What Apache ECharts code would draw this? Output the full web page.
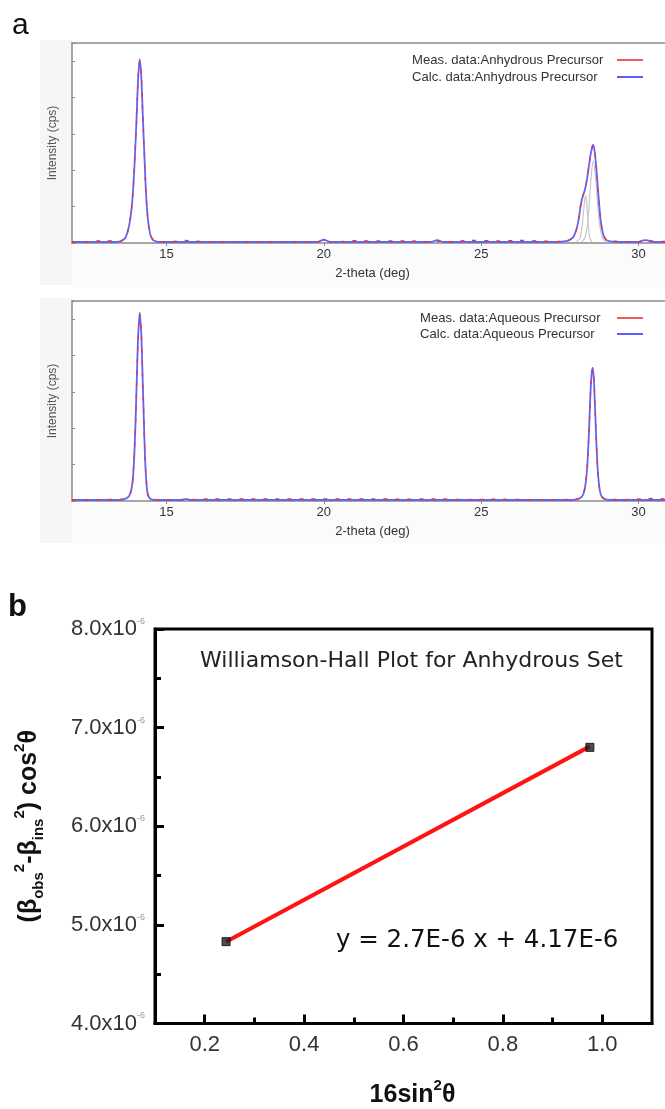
<!DOCTYPE html>
<html>
<head>
<meta charset="utf-8">
<title>XRD refinement and Williamson-Hall plot</title>
<script src="https://cdn.jsdelivr.net/npm/echarts@6/dist/echarts.min.js"></script>
<style>
  html, body { margin: 0; padding: 0; background: #fff; }
  #chart { width: 665px; height: 1109px; }
</style>
</head>
<body>
<div id="chart"></div>
<script>
// --- panel a, top: anhydrous precursor (2-theta in deg, intensity in arbitrary units) ---
var anhTheta = [12.0, 12.5, 13.0, 13.5, 13.6, 13.7, 13.78, 13.84, 13.9, 13.95,
  14.0, 14.05, 14.1, 14.15, 14.2, 14.25, 14.3, 14.35, 14.4, 14.45,
  14.5, 14.58, 14.7, 15.0, 15.6, 15.75, 16.5, 18.0, 19.8, 20.0,
  20.2, 21.2, 21.4, 22.6, 23.4, 23.6, 23.8, 24.6, 25.5, 26.2,
  26.8, 27.4, 27.7, 27.85, 27.95, 28.05, 28.12, 28.18, 28.24, 28.3,
  28.36, 28.42, 28.48, 28.53, 28.56, 28.6, 28.65, 28.7, 28.75, 28.8,
  28.86, 28.92, 29.0, 29.2, 30.0, 30.15, 30.25, 30.4, 31.0];
var anhCalc = [0.03, 0.03, 0.03, 0.04, 0.07, 0.15, 0.35, 0.6, 1.0, 1.6,
  2.4, 3.4, 4.5, 5.05, 4.6, 3.5, 2.4, 1.4, 0.75, 0.4,
  0.2, 0.08, 0.04, 0.03, 0.03, 0.03, 0.03, 0.03, 0.03, 0.09,
  0.03, 0.03, 0.03, 0.03, 0.03, 0.08, 0.03, 0.03, 0.03, 0.03,
  0.03, 0.03, 0.05, 0.1, 0.2, 0.45, 0.78, 1.12, 1.32, 1.48,
  1.75, 2.1, 2.45, 2.65, 2.7, 2.55, 2.15, 1.6, 1.05, 0.6,
  0.3, 0.15, 0.07, 0.04, 0.03, 0.07, 0.08, 0.04, 0.03];
var anhMeas = [0.03, 0.03, 0.07, 0.04, 0.08, 0.16, 0.33, 0.62, 1.02, 1.55,
  2.45, 3.35, 4.55, 5.0, 4.62, 3.45, 2.42, 1.38, 0.78, 0.38,
  0.21, 0.08, 0.04, 0.03, 0.07, 0.06, 0.03, 0.03, 0.03, 0.06,
  0.03, 0.07, 0.06, 0.06, 0.03, 0.05, 0.03, 0.07, 0.06, 0.07,
  0.06, 0.04, 0.06, 0.11, 0.21, 0.43, 0.8, 1.14, 1.3, 1.5,
  1.72, 2.12, 2.42, 2.66, 2.68, 2.57, 2.12, 1.62, 1.02, 0.62,
  0.28, 0.16, 0.07, 0.05, 0.03, 0.08, 0.09, 0.06, 0.04];

// fitted component peaks (grey) around 28.3 / 28.6
var compATheta = [28.02, 28.13, 28.2, 28.25, 28.29, 28.32, 28.36, 28.4, 28.45, 28.52];
var compAVal = [0.03, 0.12, 0.4, 0.85, 1.18, 1.3, 1.0, 0.5, 0.15, 0.03];
var compBTheta = [28.2, 28.3, 28.38, 28.45, 28.5, 28.56, 28.62, 28.68, 28.75, 28.85, 28.95];
var compBVal = [0.03, 0.15, 0.55, 1.3, 1.9, 2.25, 1.95, 1.3, 0.6, 0.15, 0.03];

// --- panel a, bottom: aqueous precursor ---
var aqTheta = [12.0, 13.0, 13.6, 13.75, 13.85, 13.92, 13.97, 14.02, 14.06, 14.1,
  14.15, 14.2, 14.24, 14.28, 14.32, 14.36, 14.4, 14.46, 14.55, 15.0,
  15.5, 15.62, 15.75, 16.5, 17.5, 18.5, 19.5, 20.5, 21.5, 22.5,
  23.5, 24.5, 25.5, 26.5, 27.5, 28.0, 28.15, 28.25, 28.32, 28.37,
  28.42, 28.46, 28.5, 28.54, 28.58, 28.62, 28.66, 28.7, 28.75, 28.8,
  28.88, 29.0, 29.5, 30.2, 30.5, 30.8, 31.0];
var aqCalc = [0.03, 0.03, 0.04, 0.08, 0.2, 0.5, 1.1, 2.2, 3.4, 4.5,
  5.18, 4.6, 3.5, 2.3, 1.2, 0.55, 0.22, 0.08, 0.04, 0.03,
  0.03, 0.06, 0.03, 0.03, 0.03, 0.03, 0.03, 0.03, 0.03, 0.03,
  0.03, 0.03, 0.03, 0.03, 0.03, 0.04, 0.08, 0.2, 0.5, 0.95,
  1.8, 2.7, 3.4, 3.67, 3.35, 2.5, 1.6, 0.9, 0.4, 0.18,
  0.07, 0.04, 0.03, 0.03, 0.03, 0.03, 0.03];
var aqMeas = [0.03, 0.04, 0.05, 0.09, 0.21, 0.48, 1.12, 2.15, 3.42, 4.45,
  5.15, 4.62, 3.45, 2.32, 1.18, 0.57, 0.21, 0.08, 0.05, 0.03,
  0.04, 0.05, 0.04, 0.06, 0.06, 0.06, 0.06, 0.06, 0.06, 0.05,
  0.06, 0.04, 0.05, 0.04, 0.04, 0.05, 0.09, 0.21, 0.48, 0.97,
  1.78, 2.72, 3.38, 3.64, 3.37, 2.48, 1.62, 0.88, 0.42, 0.17,
  0.08, 0.05, 0.04, 0.06, 0.07, 0.06, 0.04];

var xrdTicks = [15, 20, 25, 30];
var anhNames = ['Meas. data:Anhydrous Precursor', 'Calc. data:Anhydrous Precursor'];
var aqNames = ['Meas. data:Aqueous Precursor', 'Calc. data:Aqueous Precursor'];

// --- panel b: Williamson-Hall (y in units of 1e-6) ---
var whX = [0.243, 0.975];
var whY = [4.83, 6.80];
var fitX = [0.243, 0.975];
var fitY = [4.83, 6.81];
var whXTicks = [0.2, 0.4, 0.6, 0.8, 1.0];
var whXMinor = [0.3, 0.5, 0.7, 0.9];

(function () {
  'use strict';

  function zip(xs, ys) {
    return xs.map(function (x, i) { return [x, ys[i]]; });
  }

  var chart = echarts.init(document.getElementById('chart'), null, { renderer: 'canvas' });

  var FONT = '"Liberation Sans", Arial, sans-serif';
  var GREY = '#8a8a8a';
  var BLUE = 'rgba(70, 70, 255, 0.85)';
  var RED = '#e8343a';
  // the diffractograms are cut off at the right edge of the figure
  var XRD_MIN = 12, XRD_MAX = 30.84;

  function xrdGrid(top) {
    return { left: 72, top: top, width: 593, height: 200, backgroundColor: '#fff', show: true, borderWidth: 0 };
  }

  function xrdXAxis(idx) {
    return {
      type: 'value', gridIndex: idx, min: XRD_MIN, max: XRD_MAX,
      name: '2-theta (deg)', nameLocation: 'middle', nameGap: 24,
      nameTextStyle: { fontFamily: FONT, fontSize: 13, color: '#333', padding: [0, 0, 0, 8] },
      axisLine: { lineStyle: { color: GREY, width: 1.5 } },
      axisTick: { customValues: xrdTicks, length: 3, lineStyle: { color: GREY } },
      axisLabel: { customValues: xrdTicks, margin: 5, fontFamily: FONT, fontSize: 13, color: '#333' },
      splitLine: { show: false }
    };
  }

  // plain top frame line of each diffractogram
  function xrdTopAxis(idx) {
    return {
      type: 'value', gridIndex: idx, min: XRD_MIN, max: XRD_MAX, position: 'top',
      axisLine: { lineStyle: { color: GREY, width: 1.5 } },
      axisTick: { show: false }, axisLabel: { show: false }, splitLine: { show: false }
    };
  }

  function xrdYAxis(idx) {
    return {
      type: 'value', gridIndex: idx, min: 0, max: 5.5, interval: 1,
      name: 'Intensity (cps)', nameLocation: 'middle', nameGap: 13,
      nameTextStyle: { fontFamily: FONT, fontSize: 12, color: '#555' },
      axisLine: { show: true, lineStyle: { color: GREY, width: 1.5 } },
      axisTick: { show: true, inside: true, length: 3, lineStyle: { color: GREY } },
      axisLabel: { show: false },
      splitLine: { show: false }
    };
  }

  // legend drawn like the diffractometer export: text on the left, line key on the right
  function xrdKey(textX, rows, names) {
    var colors = ['#f05a5e', '#5d5dff'];
    var els = [];
    names.forEach(function (n, i) {
      els.push({ type: 'text', x: textX, y: rows[i], z: 20,
        style: { text: n, font: '13.1px ' + FONT, fill: '#333', verticalAlign: 'middle' } });
      els.push({ type: 'line', z: 20, shape: { x1: 617, y1: rows[i], x2: 643, y2: rows[i] },
        style: { stroke: colors[i], lineWidth: 2 } });
    });
    return els;
  }

  function lineSeries(name, idx, data, color, width, dashed, z) {
    return {
      name: name, type: 'line', xAxisIndex: idx, yAxisIndex: idx,
      data: data, symbol: 'none', smooth: 0.3, z: z, animation: false,
      lineStyle: { color: color, width: width, type: dashed ? [4, 8] : 'solid' },
      itemStyle: { color: color }
    };
  }

  var supRich = {
    m: { fontFamily: FONT, fontSize: 25, fontWeight: 'bold', color: '#111', lineHeight: 34 },
    sub: { fontFamily: FONT, fontSize: 15, fontWeight: 'bold', color: '#111', lineHeight: 15, verticalAlign: 'bottom' },
    sup: { fontFamily: FONT, fontSize: 15, fontWeight: 'bold', color: '#111', lineHeight: 15, verticalAlign: 'top' }
  };

  var option = {
    backgroundColor: '#fff',
    animation: false,
    grid: [
      xrdGrid(43),
      xrdGrid(301),
      { left: 155, top: 629, width: 497, height: 399, show: true, borderColor: '#000', borderWidth: 3 }
    ],
    xAxis: [
      xrdXAxis(0),
      xrdXAxis(1),
      {
        type: 'value', gridIndex: 2, min: 0.1, max: 1.1,
        name: '{m|16sin}{sup|2}{m|θ}', nameLocation: 'middle', nameGap: 55,
        nameTextStyle: { rich: supRich, padding: [0, 0, 0, 18] },
        axisLine: { lineStyle: { color: '#000', width: 3 } },
        axisTick: { customValues: whXTicks, inside: true, length: 9, lineStyle: { color: '#000', width: 3 } },
        axisLabel: {
          customValues: whXTicks, margin: 10, fontFamily: FONT, fontSize: 22, color: '#333',
          formatter: function (v) { return v.toFixed(1); }
        },
        splitLine: { show: false }
      },
      {
        type: 'value', gridIndex: 2, min: 0.1, max: 1.1, position: 'bottom',
        axisLine: { show: false },
        axisTick: { customValues: whXMinor, inside: true, length: 6, lineStyle: { color: '#000', width: 3 } },
        axisLabel: { show: false, customValues: whXMinor },
        splitLine: { show: false }
      },
      xrdTopAxis(0),
      xrdTopAxis(1)
    ],
    yAxis: [
      xrdYAxis(0),
      xrdYAxis(1),
      {
        type: 'value', gridIndex: 2, min: 4, max: 8, interval: 1,
        name: '{m|(β}{sub|obs}{sup|2}{m|-β}{sub|ins}{sup|2}{m|) cos}{sup|2}{m|θ}',
        nameLocation: 'middle', nameGap: 109,
        nameTextStyle: { rich: supRich },
        axisLine: { show: true, lineStyle: { color: '#000', width: 3 } },
        axisTick: { show: true, inside: true, length: 9, lineStyle: { color: '#000', width: 3 } },
        minorTick: { show: true, splitNumber: 2, length: 6, lineStyle: { color: '#000', width: 3 } },
        axisLabel: {
          margin: 10,
          formatter: function (v) { return '{n|' + v.toFixed(1) + 'x10}{e|-6}'; },
          rich: {
            n: { fontFamily: FONT, fontSize: 22, color: '#333', lineHeight: 24 },
            e: { fontFamily: FONT, fontSize: 9, color: '#999', lineHeight: 9, verticalAlign: 'top' }
          }
        },
        splitLine: { show: false }
      }
    ],
    series: [
      lineSeries('compA', 0, zip(compATheta, compAVal), '#c8c8c8', 1.2, false, 1),
      lineSeries('compB', 0, zip(compBTheta, compBVal), '#c8c8c8', 1.2, false, 1),
      lineSeries(anhNames[1], 0, zip(anhTheta, anhCalc), BLUE, 1.8, false, 2),
      lineSeries(anhNames[0], 0, zip(anhTheta, anhMeas), RED, 1.3, true, 3),
      lineSeries(aqNames[1], 1, zip(aqTheta, aqCalc), BLUE, 1.8, false, 2),
      lineSeries(aqNames[0], 1, zip(aqTheta, aqMeas), RED, 1.3, true, 3),
      {
        name: 'Linear fit', type: 'line', xAxisIndex: 2, yAxisIndex: 2,
        data: zip(fitX, fitY), symbol: 'none', z: 3,
        lineStyle: { color: '#ff1414', width: 4 }
      },
      {
        name: 'Anhydrous set', type: 'scatter', xAxisIndex: 2, yAxisIndex: 2,
        data: zip(whX, whY), symbol: 'rect', symbolSize: 8, z: 4,
        itemStyle: { color: '#222', borderColor: '#000', borderWidth: 1 }
      }
    ],
    graphic: [
      // faint grey frame area of the diffractogram exports
      { type: 'rect', z: -10, shape: { x: 40, y: 40, width: 32, height: 245 }, style: { fill: '#f6f6f6' } },
      { type: 'rect', z: -10, shape: { x: 72, y: 244, width: 593, height: 43 }, style: { fill: '#fbfbfb' } },
      { type: 'rect', z: -10, shape: { x: 40, y: 298, width: 32, height: 245 }, style: { fill: '#f6f6f6' } },
      { type: 'rect', z: -10, shape: { x: 72, y: 503, width: 593, height: 40 }, style: { fill: '#fbfbfb' } },
      // panel letters
      { type: 'text', x: 12, y: 26, style: { text: 'a', font: '30px ' + FONT, fill: '#111', verticalAlign: 'middle' } },
      { type: 'text', x: 8, y: 607, style: { text: 'b', font: 'bold 31px ' + FONT, fill: '#111', verticalAlign: 'middle' } },
      // panel b annotations
      { type: 'text', x: 200, y: 661, z: 20, style: { text: 'Williamson-Hall Plot for Anhydrous Set', font: '22px "DejaVu Sans", sans-serif', fill: '#222', verticalAlign: 'middle' } },
      { type: 'text', x: 336, y: 941, z: 20, style: { text: 'y = 2.7E-6 x + 4.17E-6', font: '24.5px "DejaVu Sans", sans-serif', fill: '#111', verticalAlign: 'middle' } }
    ].concat(xrdKey(412, [60, 77], anhNames), xrdKey(420, [318, 334], aqNames))
  };

  chart.setOption(option);
})();
</script>
</body>
</html>
